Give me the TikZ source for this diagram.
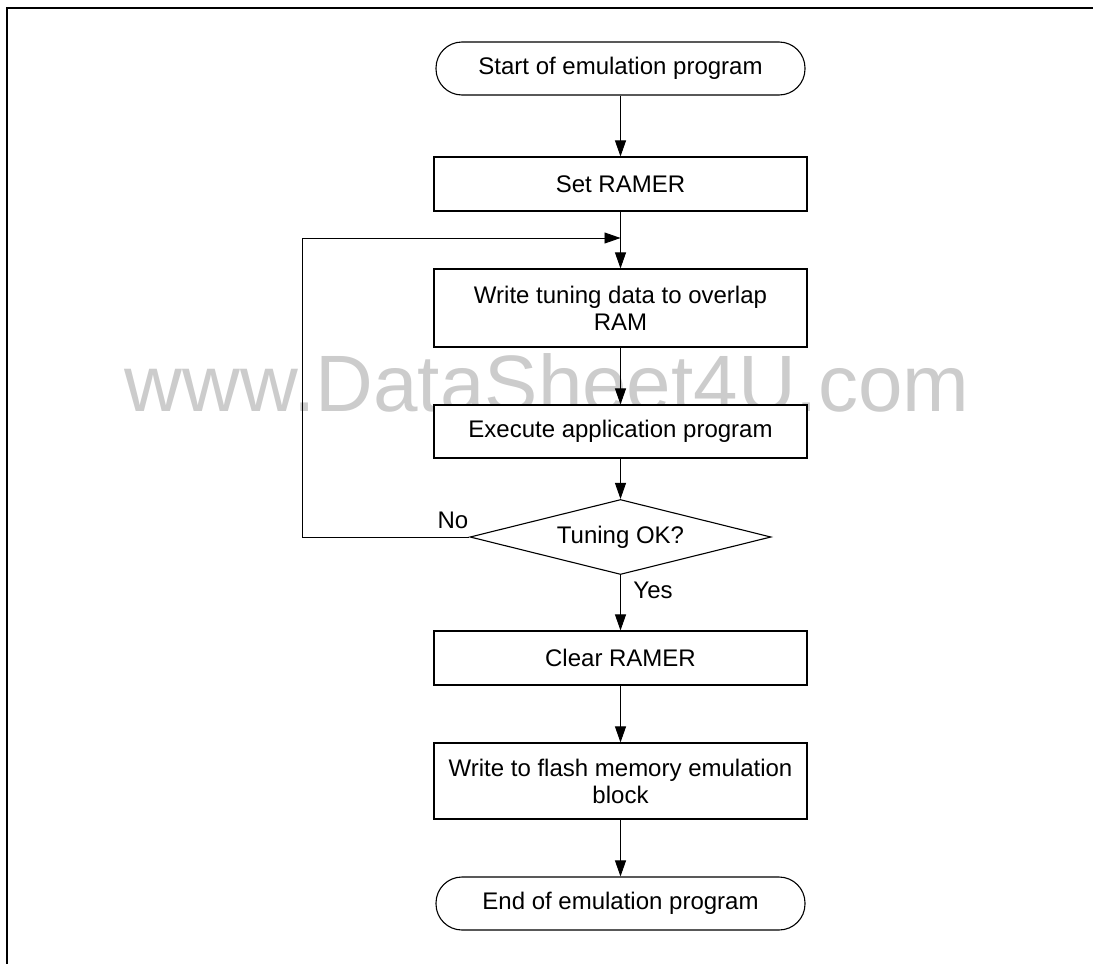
\documentclass[tikz,border=0pt]{standalone}
\usepackage{fontspec}
\setmainfont{Liberation Sans}
\usetikzlibrary{shapes.geometric,arrows.meta}
\begin{document}
\begin{tikzpicture}[x=1pt,y=-1pt,
  every node/.style={font=\fontsize{24}{27}\selectfont},
  proc/.style={draw, line width=1.1pt, fill=white, minimum width=373pt, align=center, inner sep=0pt},
  term/.style={draw, line width=1.1pt, fill=white, rounded corners=26pt, minimum width=369pt, minimum height=53pt, inner sep=0pt},
  dec/.style={draw, diamond, aspect=4, minimum width=301pt, minimum height=75pt, inner sep=0pt, fill=white, line width=1.1pt},
  conn/.style={line width=0.9pt, -{Triangle[length=16pt,width=11pt]}},
  plain/.style={line width=0.9pt},
  lbl/.style={inner sep=0pt}]
\useasboundingbox (0,0) rectangle (1093,964);
\node[inner sep=0pt, text=black!20, font=\fontsize{80}{80}\selectfont] (wm) at (547,383) {www.DataSheet4U.com};
\draw[line width=1.3pt] (7,964) -- (7,8) -- (1093,8);
\node[term] (start) at (620.5,68.5) {Start of emulation program};
\node[proc, minimum height=54pt] (set) at (620.5,184) {Set RAMER};
\node[proc, minimum height=78pt] (write) at (620.5,308) {Write tuning data to overlap\\RAM};
\node[proc, minimum height=53pt] (exec) at (620.5,431.5) {Execute application program};
\node[dec] (dec) at (620.5,537) {Tuning OK?};
\node[proc, minimum height=54pt] (clear) at (620.5,658) {Clear RAMER};
\node[proc, minimum height=76pt] (flash) at (620.5,781) {Write to flash memory emulation\\block};
\node[term] (end) at (620.5,903.5) {End of emulation program};
\node[lbl] (no) at (453,520) {No};
\node[lbl] (yes) at (653,590) {Yes};
\coordinate (lc) at (302,537);
\coordinate (lt) at (302,238);
\coordinate (join) at (620.5,238);
\draw[conn] (start) -- (set);
\draw[conn] (set) -- (write);
\draw[conn] (write) -- (exec);
\draw[conn] (exec) -- (dec);
\draw[conn] (dec) -- (clear);
\draw[conn] (clear) -- (flash);
\draw[conn] (flash) -- (end);
\draw[conn] (dec.west) -- (lc) -- (lt) -- (join);
\end{tikzpicture}
\end{document}
